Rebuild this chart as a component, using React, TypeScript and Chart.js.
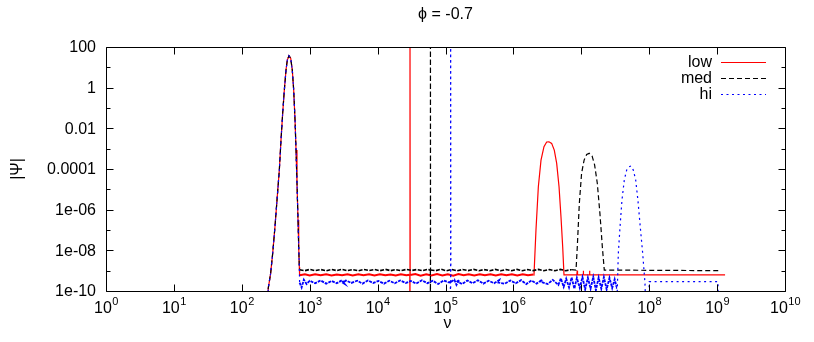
import React, { useEffect, useRef } from 'react';
import { Chart, registerables } from 'chart.js';

Chart.register(...registerables);

type Pt = [number, number];

// ---- text ----
const titleText = 'ϕ = -0.7';
const xAxisTitle = 'ν';
const yAxisTitle = '|Ψ|';
const seriesNames = ['low', 'med', 'hi'];
const seriesColors = ['#ff0000', '#000000', '#0000ff'];
const seriesDashes: number[][] = [[], [5, 3], [2, 3.5]];
const floorDashes: number[][] = [[], [4, 1.5], [3, 1]];
const floorWidths = [2, 1.6, 1.8];

// ---- ticks ----
const xTickBase = '10';
const xTickExponents = ['0', '1', '2', '3', '4', '5', '6', '7', '8', '9', '10'];
const xTickValues = [1, 1e1, 1e2, 1e3, 1e4, 1e5, 1e6, 1e7, 1e8, 1e9, 1e10];
const yTickValues = [100, 1, 1e-2, 1e-4, 1e-6, 1e-8, 1e-10];
const yTickLabels = ['100', '1', '0.01', '0.0001', '1e-06', '1e-08', '1e-10'];
const yMinorTickValues = [10, 0.1, 1e-3, 1e-5, 1e-7, 1e-9];

// ---- data: [nu, |Psi|] ----
const mainPeak: Pt[] = [
  [243, 5e-11], [245, 1.35e-10], [266, 7.4e-10], [285, 7.1e-9], [308, 1.45e-7],
  [333, 4.4e-6], [357, 8.9e-5], [378, 2.7e-3], [400, 0.055], [423, 0.76],
  [448, 7.4], [468, 23], [495, 37], [525, 28], [554, 7.4], [581, 0.76],
  [608, 0.026], [629, 8.5e-4], [650, 2e-5], [673, 3.1e-7], [689, 1.5e-8], [703, 1.5e-9],
];

const lowFloor: Pt[] = [
  [710, 6.0e-10], [850, 6.6e-10], [1.0e3, 5.8e-10], [1.2e3, 6.7e-10], [1.45e3, 5.9e-10],
  [1.75e3, 6.6e-10], [2.1e3, 5.8e-10], [2.5e3, 6.5e-10], [3.0e3, 5.9e-10], [3.6e3, 6.7e-10],
  [4.3e3, 5.8e-10], [5.2e3, 6.6e-10], [6.2e3, 5.9e-10], [7.5e3, 6.6e-10], [9.0e3, 5.8e-10],
  [1.08e4, 6.7e-10], [1.3e4, 5.9e-10], [1.55e4, 6.5e-10], [1.85e4, 5.8e-10], [2.2e4, 6.6e-10],
  [2.65e4, 5.9e-10], [2.98e4, 6.3e-10],
  [3.0e4, 1e-12], [3.0e4, 1e4],
  [3.02e4, 6.2e-10], [3.6e4, 6.8e-10], [4.3e4, 5.7e-10], [5.2e4, 6.7e-10], [6.2e4, 5.8e-10],
  [7.5e4, 6.8e-10], [9.0e4, 5.8e-10], [1.08e5, 6.7e-10], [1.3e5, 5.7e-10], [1.55e5, 6.8e-10],
  [1.85e5, 5.9e-10], [2.2e5, 6.6e-10], [2.65e5, 5.8e-10], [3.2e5, 6.7e-10], [3.8e5, 5.9e-10],
  [4.6e5, 6.6e-10], [5.5e5, 5.8e-10], [6.6e5, 6.7e-10], [7.9e5, 5.9e-10], [9.5e5, 6.6e-10],
  [1.14e6, 5.8e-10], [1.37e6, 6.6e-10], [1.64e6, 5.9e-10], [1.97e6, 6.4e-10],
];
const lowPeak: Pt[] = [
  [2.01e6, 6.2e-10], [2.15e6, 1e-7], [2.33e6, 1.35e-5], [2.55e6, 2.75e-4], [2.82e6, 1.26e-3],
  [3.09e6, 2.14e-3], [3.34e6, 2.19e-3], [3.66e6, 1.82e-3], [4.0e6, 8.5e-4], [4.34e6, 1.9e-4],
  [4.7e6, 1.35e-5], [5.02e6, 4.5e-7], [5.32e6, 1.5e-8], [5.56e6, 6.2e-10],
];
const lowTail: Pt[] = [
  [8.6e6, 6.2e-10], [8.7e6, 1.0e-9], [8.8e6, 6.2e-10], [1.06e7, 6.2e-10], [1.07e7, 1.0e-9],
  [1.08e7, 6.2e-10], [1.3e7, 6.2e-10], [1.32e7, 1.0e-9], [1.34e7, 6.2e-10], [1.31e9, 6.2e-10],
];

const medFloor: Pt[] = [
  [710, 1.1e-9], [850, 1.0e-9], [1.0e3, 1.15e-9], [1.2e3, 1.0e-9], [1.45e3, 1.14e-9],
  [1.75e3, 0.99e-9], [2.1e3, 1.15e-9], [2.5e3, 1.01e-9], [3.0e3, 1.16e-9], [3.6e3, 1.0e-9],
  [4.3e3, 1.13e-9], [5.2e3, 0.99e-9], [6.2e3, 1.15e-9], [7.5e3, 1.01e-9], [9.0e3, 1.14e-9],
  [1.08e4, 1.0e-9], [1.3e4, 1.16e-9], [1.55e4, 1.0e-9], [1.85e4, 1.13e-9], [2.2e4, 0.99e-9],
  [2.65e4, 1.15e-9], [3.2e4, 1.02e-9], [3.8e4, 1.14e-9], [4.6e4, 1.0e-9], [5.5e4, 1.16e-9],
  [5.98e4, 1.05e-9],
  [6.0e4, 1e-12], [6.0e4, 1e4],
  [6.02e4, 1.08e-9], [7.2e4, 1.0e-9], [8.6e4, 1.17e-9], [1.03e5, 0.99e-9], [1.24e5, 1.15e-9],
  [1.49e5, 0.98e-9], [1.79e5, 1.14e-9], [2.15e5, 1.01e-9], [2.6e5, 1.16e-9], [3.1e5, 1.0e-9],
  [3.7e5, 1.13e-9], [4.5e5, 1.0e-9], [5.4e5, 1.15e-9], [6.5e5, 0.99e-9], [7.8e5, 1.14e-9],
  [9.4e5, 1.0e-9], [1.13e6, 1.16e-9], [1.35e6, 0.99e-9], [1.62e6, 1.13e-9], [1.95e6, 1.01e-9],
  [2.35e6, 1.15e-9], [2.8e6, 1.0e-9], [3.4e6, 1.14e-9], [4.1e6, 0.99e-9], [4.9e6, 1.15e-9],
  [5.9e6, 1.0e-9], [7.1e6, 1.12e-9],
];
const medPeak: Pt[] = [
  [8.36e6, 1.07e-9], [8.73e6, 1.5e-8], [9.35e6, 2.0e-6], [1.01e7, 6.2e-5], [1.10e7, 2.75e-4],
  [1.20e7, 5.2e-4], [1.31e7, 5.9e-4], [1.44e7, 4.4e-4], [1.57e7, 1.6e-4], [1.72e7, 2.0e-5],
  [1.88e7, 6.6e-7], [2.04e7, 1.5e-8], [2.18e7, 1.07e-9],
];
const medTail: Pt[] = [[1.1e9, 1.0e-9]];

const hiFloor: Pt[] = [
  [710, 2.6e-10], [760, 1.5e-10], [820, 3.6e-10], [900, 2.2e-10], [1.0e3, 3.2e-10],
  [1.2e3, 2.4e-10], [1.45e3, 3.3e-10], [1.75e3, 2.3e-10], [2.1e3, 3.1e-10], [2.5e3, 2.4e-10],
  [3.0e3, 3.4e-10], [3.3e3, 2.2e-10], [3.1e3, 2.5e-10], [3.4e3, 3.3e-10], [4.1e3, 2.5e-10],
  [5.0e3, 3.2e-10], [6.0e3, 2.3e-10], [7.2e3, 3.3e-10], [8.6e3, 2.5e-10], [1.03e4, 3.1e-10],
  [1.24e4, 2.3e-10], [1.49e4, 3.2e-10], [1.79e4, 2.4e-10], [2.15e4, 3.3e-10], [2.6e4, 2.5e-10],
  [3.1e4, 3.1e-10], [3.7e4, 2.3e-10], [4.5e4, 3.4e-10], [5.4e4, 2.4e-10], [6.5e4, 3.2e-10],
  [7.8e4, 2.2e-10], [9.4e4, 3.3e-10], [1.13e5, 2.6e-10], [1.18e5, 2.9e-10],
  [1.19e5, 1e-12], [1.19e5, 1e4],
  [1.2e5, 2.8e-10], [1.35e5, 3.6e-10], [1.45e5, 2.0e-10], [1.6e5, 3.5e-10], [1.5e5, 3.0e-10],
  [1.75e5, 2.2e-10], [2.1e5, 3.3e-10], [2.5e5, 2.4e-10], [3.0e5, 3.4e-10], [3.6e5, 2.3e-10],
  [4.3e5, 3.2e-10], [5.2e5, 2.4e-10], [6.2e5, 3.5e-10], [6.0e5, 2.6e-10], [7.5e5, 2.3e-10],
  [9.0e5, 3.3e-10], [1.08e6, 2.4e-10], [1.3e6, 3.4e-10], [1.55e6, 2.2e-10], [1.85e6, 3.3e-10],
  [2.2e6, 2.3e-10], [2.65e6, 3.6e-10], [2.5e6, 2.9e-10], [3.2e6, 2.2e-10], [3.8e6, 3.5e-10],
  [4.6e6, 2.0e-10], [5.0e6, 4.2e-10], [5.5e6, 1.6e-10], [6.0e6, 4.0e-10], [6.6e6, 1.5e-10],
  [7.2e6, 4.6e-10], [7.9e6, 1.3e-10], [8.6e6, 4.4e-10], [9.5e6, 1.4e-10], [1.04e7, 4.8e-10],
  [1.14e7, 1.2e-10], [1.25e7, 4.5e-10], [1.37e7, 1.3e-10], [1.5e7, 4.9e-10], [1.64e7, 1.1e-10],
  [1.8e7, 4.6e-10], [1.97e7, 1.3e-10], [2.15e7, 4.8e-10], [2.36e7, 1.2e-10], [2.6e7, 4.4e-10],
  [2.85e7, 1.4e-10], [3.1e7, 3.8e-10], [3.3e7, 1.6e-10],
];
const hiPeak: Pt[] = [
  [3.32e7, 1e-11], [3.51e7, 7.1e-9], [3.72e7, 1.45e-7], [3.97e7, 2.95e-6], [4.30e7, 2.9e-5],
  [4.66e7, 8.9e-5], [5.04e7, 1.29e-4], [5.40e7, 1.41e-4], [5.83e7, 8.9e-5], [6.32e7, 2.9e-5],
  [6.82e7, 2.95e-6], [7.38e7, 1.45e-7], [8.02e7, 7.1e-9], [8.67e7, 2.4e-10], [8.9e7, 1e-11],
];
const hiTail: Pt[] = [[9.9e7, 1e-11], [1.0e8, 2.9e-10], [1.03e9, 2.9e-10], [1.04e9, 1e-11]];

const seriesParts: Pt[][][] = [
  [mainPeak, lowFloor, lowPeak, lowTail],
  [mainPeak, medFloor, medPeak, medTail],
  [mainPeak, hiFloor, hiPeak, hiTail],
];

const FONT = "'Liberation Sans', Arial, Helvetica, sans-serif";

const gnuplotDecor = {
  id: 'gnuplotDecor',
  afterDraw(chart: any) {
    const { ctx, chartArea: a, scales } = chart;
    const xs = scales.x;
    const ys = scales.y;
    ctx.save();
    ctx.strokeStyle = '#000';
    ctx.fillStyle = '#000';
    ctx.lineWidth = 1;
    const L = a.left + 0.5, R = a.right + 0.5, T = a.top + 0.5, B = a.bottom + 0.5;
    const seg = (x1: number, y1: number, x2: number, y2: number) => {
      ctx.beginPath(); ctx.moveTo(x1, y1); ctx.lineTo(x2, y2); ctx.stroke();
    };
    ctx.beginPath();
    ctx.rect(L, T, R - L, B - T);
    ctx.stroke();
    yTickValues.forEach((v) => {
      const py = Math.round(ys.getPixelForValue(v)) + 0.5;
      seg(L, py, L + 7, py);
      seg(R - 7, py, R, py);
    });
    yMinorTickValues.forEach((v) => {
      const py = Math.round(ys.getPixelForValue(v)) + 0.5;
      seg(L, py, L + 4, py);
      seg(R - 4, py, R, py);
    });
    xTickValues.forEach((v) => {
      const px = Math.round(xs.getPixelForValue(v)) + 0.5;
      seg(px, B, px, B - 7);
      seg(px, T, px, T + 7);
    });
    ctx.font = `16px ${FONT}`;
    ctx.textAlign = 'right';
    ctx.textBaseline = 'middle';
    yTickValues.forEach((v, i) => {
      const py = ys.getPixelForValue(v);
      ctx.fillText(yTickLabels[i], a.left - 10, py + 1);
    });
    ctx.textBaseline = 'alphabetic';
    ctx.textAlign = 'left';
    xTickValues.forEach((v, i) => {
      const px = xs.getPixelForValue(v);
      ctx.font = `16px ${FONT}`;
      const wb = ctx.measureText(xTickBase).width;
      ctx.font = `11px ${FONT}`;
      const we = ctx.measureText(xTickExponents[i]).width;
      const x0 = px - (wb + we) / 2;
      ctx.font = `16px ${FONT}`;
      ctx.fillText(xTickBase, x0, a.bottom + 22);
      ctx.font = `11px ${FONT}`;
      ctx.fillText(xTickExponents[i], x0 + wb + 0.5, a.bottom + 14);
    });
    ctx.font = `16px ${FONT}`;
    ctx.textAlign = 'center';
    ctx.textBaseline = 'middle';
    ctx.fillText(titleText, (a.left + a.right) / 2, 15);
    ctx.fillText(xAxisTitle, (a.left + a.right) / 2 + 2, 324);
    ctx.save();
    ctx.translate(18, (a.top + a.bottom) / 2);
    ctx.rotate(-Math.PI / 2);
    ctx.fillText(yAxisTitle, 0, 0);
    ctx.restore();
    ctx.textAlign = 'right';
    seriesNames.forEach((name, i) => {
      const ly = 62 + i * 16;
      ctx.fillStyle = '#000';
      ctx.fillText(name, 712, ly + 1);
      ctx.strokeStyle = seriesColors[i];
      ctx.lineWidth = 1.2;
      ctx.setLineDash(seriesDashes[i]);
      seg(721, ly + 0.5, 766, ly + 0.5);
      ctx.setLineDash([]);
    });
    ctx.restore();
  },
};

export default function App() {
  const ref = useRef<HTMLCanvasElement | null>(null);
  useEffect(() => {
    if (!ref.current) return;
    const datasets = seriesNames.map((name, i) => {
      const parts = seriesParts[i];
      const pts: Pt[] = ([] as Pt[]).concat(...parts);
      const fStart = parts[0].length;
      const fEnd = fStart + parts[1].length - 1;
      const inBand = (v: number) => v >= 1e-10 && v <= 5e-9;
      const noisy = (c: any) =>
        c.p0DataIndex >= fStart && c.p1DataIndex <= fEnd &&
        inBand(pts[c.p0DataIndex][1]) && inBand(pts[c.p1DataIndex][1]);
      return {
        label: name,
        data: pts.map(([x, y]) => ({ x, y })),
        borderColor: seriesColors[i],
        backgroundColor: seriesColors[i],
        borderWidth: 1.2,
        borderDash: seriesDashes[i],
        pointRadius: 0,
        tension: 0,
        fill: false,
        order: 2 - i,
        segment: {
          borderDash: (c: any) => (noisy(c) ? floorDashes[i] : seriesDashes[i]),
          borderWidth: (c: any) => (noisy(c) ? floorWidths[i] : 1.2),
        },
      };
    });
    const chart = new Chart(ref.current, {
      type: 'line',
      data: { datasets },
      options: {
        animation: false,
        responsive: true,
        maintainAspectRatio: false,
        layout: { padding: { top: 47, right: 29, bottom: 0, left: 0 } },
        plugins: { legend: { display: false }, tooltip: { enabled: false }, title: { display: false } },
        scales: {
          x: {
            type: 'logarithmic',
            min: 1,
            max: 1e10,
            ticks: { display: false },
            grid: { display: false },
            border: { display: false },
            afterFit: (s: any) => { s.height = 51; },
          },
          y: {
            type: 'logarithmic',
            min: 1e-10,
            max: 100,
            ticks: { display: false },
            grid: { display: false },
            border: { display: false },
            afterFit: (s: any) => { s.width = 106; },
          },
        },
      } as any,
      plugins: [gnuplotDecor],
    });
    return () => chart.destroy();
  }, []);
  return (
    <div style={{ position: 'fixed', left: 0, top: 0, width: 814, height: 342, background: '#fff' }}>
      <canvas ref={ref} />
    </div>
  );
}
